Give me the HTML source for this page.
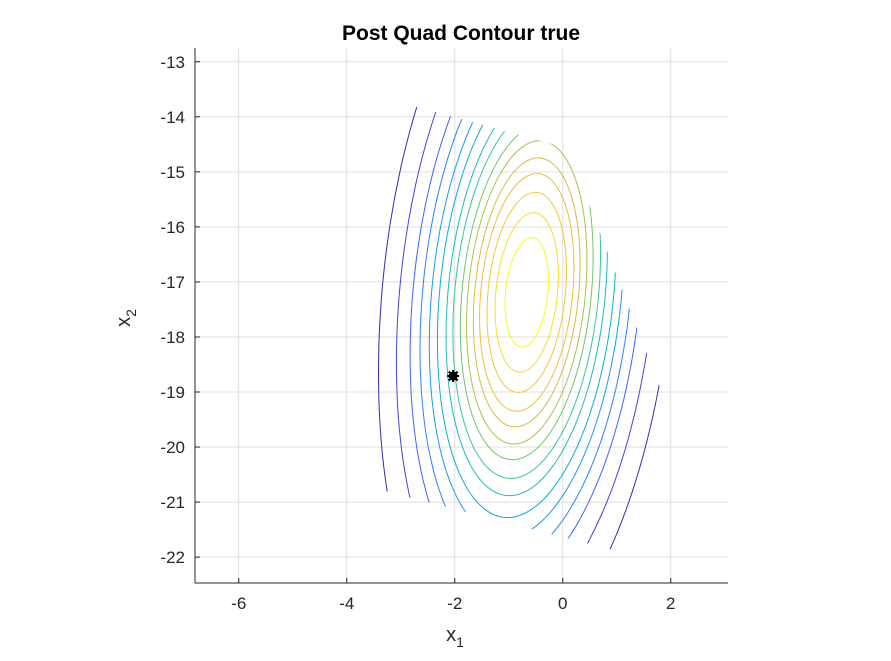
<!DOCTYPE html>
<html><head><meta charset="utf-8"><style>
body{margin:0;background:#fff;}
svg text{font-family:"Liberation Sans",sans-serif;fill:#262626;}
</style></head><body>
<svg id="chart" width="891" height="656" viewBox="0 0 891 656" xmlns="http://www.w3.org/2000/svg">
<rect width="891" height="656" fill="#fff"/>
<text x="461" y="40" text-anchor="middle" font-size="21" font-weight="bold" style="fill:#000">Post Quad Contour true</text>
<g id="grid"></g>
<defs><clipPath id="dom"><polygon id="dompoly"/></clipPath><clipPath id="box"><rect x="195" y="48" width="533" height="535"/></clipPath></defs>
<g id="contours" clip-path="url(#box)"><g id="cinner" clip-path="url(#dom)"></g></g>
<g id="marker"></g>
<g id="axes"></g>
<text x="455" y="641" text-anchor="middle" font-size="20">x<tspan font-size="14" dy="6">1</tspan></text>
<text transform="translate(130,318) rotate(-90)" text-anchor="middle" font-size="20">x<tspan font-size="14" dy="6">2</tspan></text>
</svg>
<script>
const xTicks=[-6,-4,-2,0,2];
const yTicks=[-22,-21,-20,-19,-18,-17,-16,-15,-14,-13];
const meanPt=[-0.667,-17.19];
const covXX=1.32, covXY=0.7, covYY=8.07;
const radii=[2.39,2.10,1.88,1.72,1.57,1.44,1.30,1.19,1.07,0.97,0.86,0.76,0.64,0.51,0.35];
const domainX=[-6,0.08,3.2,-6];
const domainY=[-12.93,-14.57,-22.45,-20.11];
const markX=[-2.03];
const markY=[-18.71];
const X0=-6.81,X1=3.06,Y0=-22.47,Y1=-12.75;
const L=195,R=728,T=48,B=583;
const sx=v=>L+(v-X0)/(X1-X0)*(R-L);
const sy=v=>B-(v-Y0)/(Y1-Y0)*(B-T);
const NS='http://www.w3.org/2000/svg';
function mk(t,a,p){const e=document.createElementNS(NS,t);for(const k in a)e.setAttribute(k,a[k]);p.appendChild(e);return e;}
const grid=document.getElementById('grid'),axes=document.getElementById('axes');
xTicks.forEach(v=>{
 const g=mk('line',{x1:sx(v),x2:sx(v),y1:T,y2:B,stroke:'#dfdfdf','stroke-width':1},grid);
 
 
 const t=mk('line',{x1:sx(v),x2:sx(v),y1:B,y2:B-5,stroke:'#262626'},axes);
 
 
 const l=mk('text',{x:sx(v),y:B+26,'text-anchor':'middle','font-size':17},axes);
 l.textContent=v;
 
 
});
yTicks.forEach(v=>{
 const g=mk('line',{x1:L,x2:R,y1:sy(v),y2:sy(v),stroke:'#dfdfdf','stroke-width':1},grid);
 
 
 const t=mk('line',{x1:L,x2:L+5,y1:sy(v),y2:sy(v),stroke:'#262626'},axes);
 
 
 const l=mk('text',{x:L-10,y:sy(v)+6,'text-anchor':'end','font-size':17},axes);
 l.textContent=v;
 
 
});
const xa=mk('line',{x1:L,x2:R,y1:B,y2:B,stroke:'#262626'},axes);


const ya=mk('line',{x1:L,x2:L,y1:T,y2:B,stroke:'#262626'},axes);


document.getElementById('dompoly').setAttribute('points',domainX.map((x,i)=>sx(x)+','+sy(domainY[i])).join(' '));
const stops=[[0.242,0.150,0.660],[0.27,0.35,0.98],[0.13,0.56,0.95],[0.03,0.70,0.82],[0.22,0.78,0.59],[0.60,0.78,0.30],[0.93,0.73,0.23],[0.99,0.78,0.20],[0.976,0.983,0.054]];
function parula(t){t=Math.max(0,Math.min(1,t));const f=t*(stops.length-1),i=Math.min(stops.length-2,Math.floor(f)),u=f-i;
 const c=stops[i].map((a,k)=>Math.round(255*(a+(stops[i+1][k]-a)*u)));return 'rgb('+c.join(',')+')';}
const l11=Math.sqrt(covXX),l21=covXY/l11,l22=Math.sqrt(covYY-l21*l21);
const ci=document.getElementById('cinner');
radii.forEach((r,idx)=>{
 let d='';
 for(let k=0;k<=160;k++){const th=k/160*2*Math.PI,a=r*Math.cos(th),b=r*Math.sin(th);
  const x=meanPt[0]+l11*a,y=meanPt[1]+l21*a+l22*b;d+=(k?'L':'M')+sx(x).toFixed(1)+','+sy(y).toFixed(1);}
 const e=mk('path',{d:d+'Z',fill:'none',stroke:parula(idx/(radii.length-1)),'stroke-width':1},ci);
 
 
});
const mg=document.getElementById('marker');
markX.forEach((x,i)=>{
 const cx=sx(x),cy=sy(markY[i]);
 const m=mk('g',{},mg);
 
 
 mk('circle',{cx:cx,cy:cy,r:4.5,fill:'#000'},m);
 mk('path',{d:`M${cx-6},${cy}H${cx+6}M${cx},${cy-6}V${cy+6}M${cx-4.5},${cy-4.5}L${cx+4.5},${cy+4.5}M${cx-4.5},${cy+4.5}L${cx+4.5},${cy-4.5}`,stroke:'#000','stroke-width':2},m);
});
</script>
</body></html>
